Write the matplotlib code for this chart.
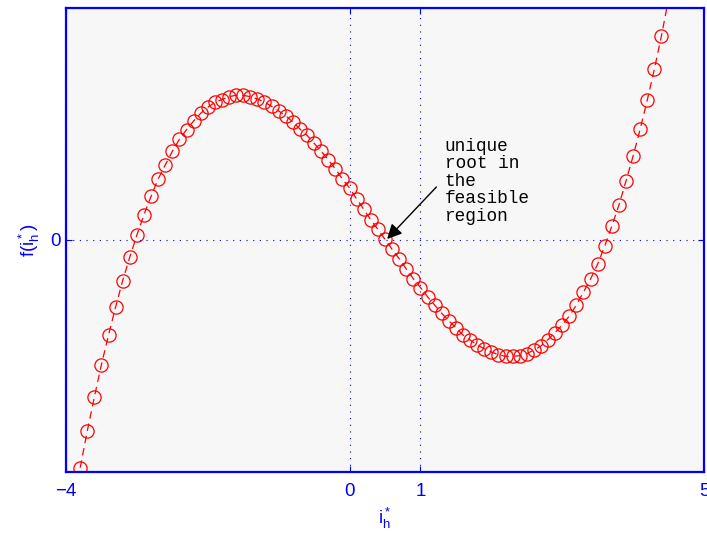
import matplotlib
matplotlib.use("Agg")
import matplotlib.pyplot as plt
import numpy as np

plt.rcParams['font.family'] = ['Liberation Sans', 'DejaVu Sans']
plt.rcParams['mathtext.default'] = 'regular'

# sample positions i_h* (step 0.1) and read-off values of f(i_h*)
x_start, x_step = -3.8, 0.1
f_vals = [
    -2.277, -1.91, -1.57, -1.245, -0.95, -0.67, -0.405, -0.17, 0.05, 0.253,
    0.437, 0.61, 0.75, 0.887, 1.007, 1.103, 1.19, 1.267, 1.327, 1.377,
    1.405, 1.433, 1.448, 1.447, 1.433, 1.41, 1.38, 1.337, 1.29, 1.243,
    1.18, 1.11, 1.047, 0.967, 0.887, 0.80, 0.71, 0.61, 0.52, 0.41,
    0.307, 0.20, 0.107, 0.007, -0.093, -0.187, -0.29, -0.387, -0.475, -0.567,
    -0.65, -0.733, -0.807, -0.877, -0.95, -1.00, -1.05, -1.087, -1.12, -1.147,
    -1.163, -1.163, -1.157, -1.137, -1.10, -1.06, -0.995, -0.925, -0.85, -0.76,
    -0.65, -0.52, -0.39, -0.24, -0.06, 0.14, 0.35, 0.59, 0.84, 1.11,
    1.40, 1.71, 2.043, 2.41,
]
x_vals = [round(x_start + k * x_step, 2) for k in range(len(f_vals))]

x_ticks = [-4, 0, 1, 5]
x_ticklabels = ['\u22124', '0', '1', '5']
y_ticks = [0]
y_ticklabels = ['0']

blue = '#0000ff'

fig = plt.figure(figsize=(7.07, 5.33), dpi=100)
ax = fig.add_axes([66 / 707, 61 / 533, 638 / 707, 464 / 533])
ax.set_facecolor('#f7f7f7')

ax.plot(x_vals, f_vals, linestyle=(0, (6, 4)), color='red', lw=0.9,
        marker='o', markersize=9.5, markerfacecolor='none',
        markeredgecolor='red', markeredgewidth=0.9)

ax.set_xlim(-4, 5)
ax.set_ylim(-2.32, 2.32)
ax.set_xticks(x_ticks)
ax.set_xticklabels(x_ticklabels)
ax.set_yticks(y_ticks)
ax.set_yticklabels(y_ticklabels)

ax.grid(True, color=blue, linestyle=(0, (1, 5)), lw=0.8)
for s in ax.spines.values():
    s.set_color(blue)
    s.set_linewidth(1.6)
ax.tick_params(axis='both', direction='in', colors=blue, labelsize=13.5,
               length=4, width=0.8, pad=8, top=True, right=True)
ax.tick_params(axis='y', pad=4)

ax.set_xlabel(r'$i_h^*$', color=blue, fontsize=13.5, labelpad=4)
ax.set_ylabel(r'f($i_h^*$)', color=blue, fontsize=13.5, labelpad=6)

ax.annotate('', xy=(0.53, 0.01), xytext=(1.225, 0.53),
            arrowprops=dict(arrowstyle='-|>', mutation_scale=22, color='black',
                            lw=1.0, shrinkA=0, shrinkB=0))
ax.text(1.34, 1.02, 'unique\nroot in\nthe\nfeasible\nregion',
        family=['Liberation Mono', 'DejaVu Sans Mono'], fontsize=12.8,
        va='top', ha='left', color='black', linespacing=1.03)

fig.savefig('out.png', dpi=100)
